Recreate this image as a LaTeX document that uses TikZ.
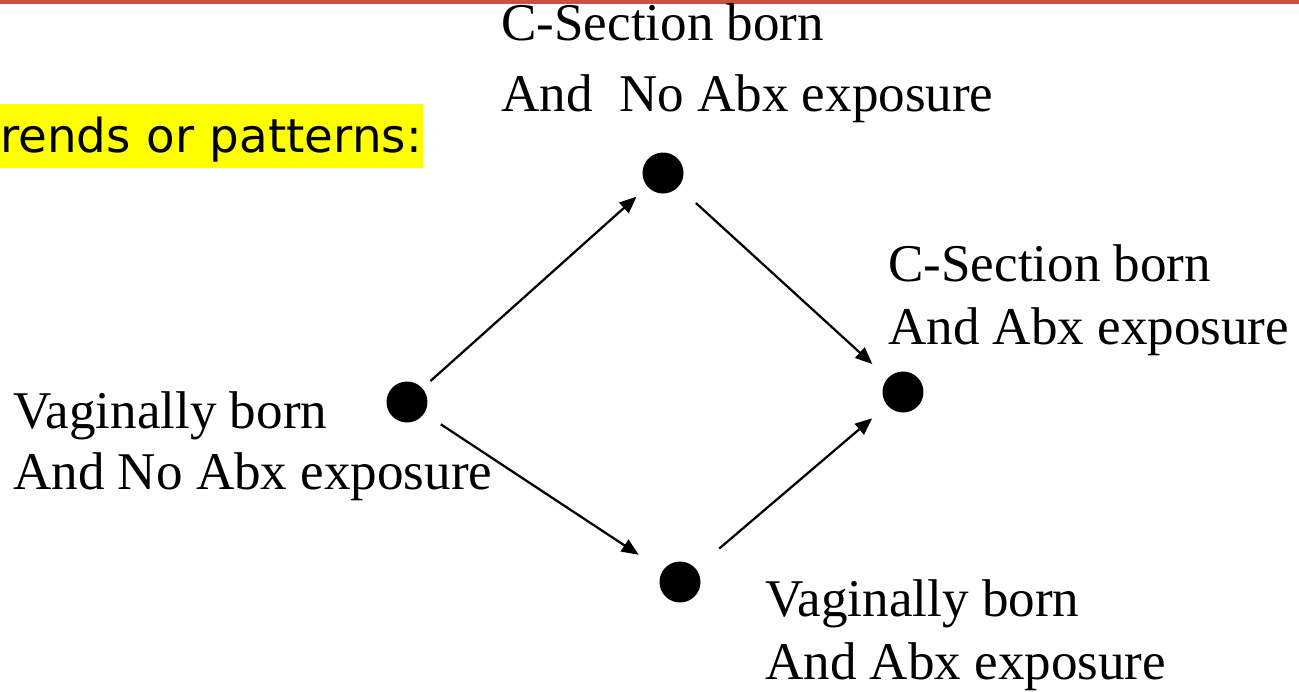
\documentclass[tikz,border=0pt]{standalone}
\usepackage{fontspec}
\setmainfont{Liberation Serif}
\newfontfamily\slidefont{DejaVu Sans}
\usetikzlibrary{arrows.meta}
\definecolor{slidered}{RGB}{200,82,62}
\definecolor{hilite}{RGB}{255,255,0}

\begin{document}
\begin{tikzpicture}[x=0.02cm, y=-0.02cm,
    dot/.style={circle, fill=black, inner sep=0pt, outer sep=0pt, minimum size=0.82cm},
    lbl/.style={anchor=north west, inner sep=0pt, align=left},
    arr/.style={-{Triangle[length=0.34cm, width=0.28cm]}, line width=0.045cm},
]
\useasboundingbox (0,0) rectangle (1299,691);
\draw[slidered, line width=0.08cm] (0,2) -- (1299,2);
\node[anchor=base west, fill=hilite, inner sep=0pt, text height=0.96cm, text depth=0.32cm,
      text width=8.46cm, align=left, font=\slidefont\fontsize{26.6}{30}\selectfont]
      (trends) at (0,152) {rends or patterns:};
% the four groups
\node[dot] (vnone) at (407,402) {};
\node[dot] (cnone) at (663,173) {};
\node[dot] (cabx)  at (903,392) {};
\node[dot] (vabx)  at (680,582) {};
\node[lbl, font=\fontsize{30.2}{34.7}\selectfont] (vnonetxt) at (13,391)
      {Vaginally born\\And No Abx exposure};
\node[lbl, font=\fontsize{30.2}{40.4}\selectfont] (cnonetxt) at (501,3)
      {C-Section born\\And\ \ No Abx exposure};
\node[lbl, font=\fontsize{30.2}{35.85}\selectfont] (cabxtxt) at (888,244)
      {C-Section born\\And Abx exposure};
\node[lbl, font=\fontsize{30.2}{35.85}\selectfont] (vabxtxt) at (765,579)
      {Vaginally born\\And Abx exposure};
% transitions
\draw[arr, shorten <=0.22cm, shorten >=0.30cm] (vnone) -- (cnone);
\draw[arr, shorten <=0.48cm, shorten >=0.42cm] (cnone) -- (cabx);
\draw[arr, shorten <=0.40cm, shorten >=0.58cm] (vnone) -- (vabx);
\draw[arr, shorten <=0.62cm, shorten >=0.40cm] (vabx) -- (cabx);
\end{tikzpicture}
\end{document}
